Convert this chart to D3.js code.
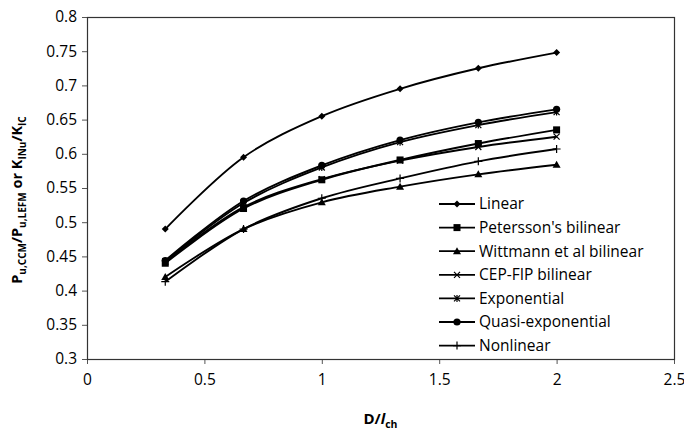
<!DOCTYPE html>
<html>
<head>
<meta charset="utf-8">
<script src="https://cdn.jsdelivr.net/npm/d3@7"></script>
<style>
  html, body { margin: 0; padding: 0; background: #fff; }
  svg { display: block; }
  text { font-family: "Open Sans", "DejaVu Sans", sans-serif; fill: #000; }
</style>
</head>
<body>
<svg id="chart" width="684" height="433"></svg>
<script>
// Normalised specimen size D/lch
const xValues = [1/3, 2/3, 1, 4/3, 5/3, 2];

// Ratio Pu,CCM/Pu,LEFM (or KINu/KIC) for each softening law
const linear       = [0.490, 0.595, 0.655, 0.695, 0.725, 0.748];
const petersson    = [0.440, 0.520, 0.562, 0.591, 0.615, 0.635];
const wittmann     = [0.420, 0.490, 0.529, 0.552, 0.570, 0.584];
const cepFip       = [0.442, 0.522, 0.563, 0.590, 0.610, 0.625];
const exponential  = [0.443, 0.528, 0.580, 0.617, 0.642, 0.661];
const quasiExp     = [0.444, 0.531, 0.583, 0.620, 0.646, 0.665];
const nonlinear    = [0.413, 0.490, 0.535, 0.564, 0.589, 0.607];

const seriesNames = ["Linear", "Petersson's bilinear", "Wittmann et al bilinear",
  "CEP-FIP bilinear", "Exponential", "Quasi-exponential", "Nonlinear"];
const seriesValues = [linear, petersson, wittmann, cepFip, exponential, quasiExp, nonlinear];
const markerKinds = ["diamond", "square", "triangle", "cross", "asterisk", "circle", "plus"];

const xTicks = [0, 0.5, 1, 1.5, 2, 2.5];
const xTickLabels = ["0", "0.5", "1", "1.5", "2", "2.5"];
const yTicks = [0.3, 0.35, 0.4, 0.45, 0.5, 0.55, 0.6, 0.65, 0.7, 0.75, 0.8];
const yTickLabels = ["0.3", "0.35", "0.4", "0.45", "0.5", "0.55", "0.6", "0.65", "0.7", "0.75", "0.8"];

const svg = d3.select("#chart");
const W = 684, H = 433;
const margin = { left: 87, right: 10, top: 17, bottom: 74 };
const pw = W - margin.left - margin.right;
const ph = H - margin.top - margin.bottom;

const x = d3.scaleLinear().domain([0, 2.5]).range([margin.left, margin.left + pw]);
const y = d3.scaleLinear().domain([0.3, 0.8]).range([margin.top + ph, margin.top]);

// Axes
const xAxis = svg.append("g")
  .attr("transform", `translate(0,${margin.top + ph})`)
  .call(d3.axisBottom(x).tickValues(xTicks)
    .tickFormat((d, i) => xTickLabels[i]).tickSize(5).tickPadding(10));
const yAxis = svg.append("g")
  .attr("transform", `translate(${margin.left},0)`)
  .call(d3.axisLeft(y).tickValues(yTicks)
    .tickFormat((d, i) => yTickLabels[i]).tickSize(5).tickPadding(5));
[xAxis, yAxis].forEach(g => {
  g.select(".domain").remove();
  g.selectAll(".tick line").attr("stroke", "#555").attr("stroke-width", 1);
  g.selectAll(".tick text").style("font-size", "15.5px").attr("fill", "#000");
});

// Plot frame
svg.append("rect")
  .attr("x", margin.left + 0.5).attr("y", margin.top + 0.5)
  .attr("width", pw).attr("height", ph)
  .attr("fill", "none").attr("stroke", "#333").attr("stroke-width", 1.2);

// Marker drawing
function drawMarker(g, kind, cx, cy) {
  const s = g.append("g").attr("transform", `translate(${cx},${cy})`);
  if (kind === "diamond") {
    s.append("path").attr("d", "M0,-3.5L3.5,0L0,3.5L-3.5,0Z").attr("fill", "#000");
  } else if (kind === "square") {
    s.append("rect").attr("x", -3.5).attr("y", -3.5).attr("width", 7).attr("height", 7).attr("fill", "#000");
  } else if (kind === "triangle") {
    s.append("path").attr("d", "M0,-4L4,3L-4,3Z").attr("fill", "#000");
  } else if (kind === "circle") {
    s.append("circle").attr("r", 3.6).attr("fill", "#000");
  } else if (kind === "cross") {
    s.append("path").attr("d", "M-3,-3L3,3M-3,3L3,-3").attr("stroke", "#000").attr("stroke-width", 1.2);
  } else if (kind === "asterisk") {
    s.append("path").attr("d", "M-3,-3L3,3M-3,3L3,-3M0,-3.5L0,3.5").attr("stroke", "#000").attr("stroke-width", 1.2);
  } else if (kind === "plus") {
    s.append("path").attr("d", "M-4,0L4,0M0,-4L0,4").attr("stroke", "#000").attr("stroke-width", 1.2);
  }
}

// Series lines (smoothed) and markers
const line = d3.line()
  .x((d, i) => x(xValues[i]))
  .y(d => y(d))
  .curve(d3.curveCatmullRom.alpha(0.5));

const plot = svg.append("g");
seriesValues.forEach((vals, si) => {
  plot.append("path")
    .datum(vals)
    .attr("d", line)
    .attr("fill", "none")
    .attr("stroke", "#000")
    .attr("stroke-width", 1.9);
});
seriesValues.forEach((vals, si) => {
  vals.forEach((v, i) => drawMarker(plot, markerKinds[si], x(xValues[i]), y(v)));
});

// Legend
const legend = svg.append("g").attr("transform", "translate(439,204)");
seriesNames.forEach((name, i) => {
  const row = legend.append("g").attr("transform", `translate(0,${i * 23.6})`);
  row.append("line").attr("x1", 0).attr("x2", 36).attr("y1", 0).attr("y2", 0)
    .attr("stroke", "#000").attr("stroke-width", 1.8);
  drawMarker(row, markerKinds[i], 18, 0);
  row.append("text").attr("x", 40).attr("y", 0).attr("dy", "0.35em")
    .style("font-size", "15.5px").text(name);
});

// Axis titles
const xTitle = svg.append("text")
  .attr("x", margin.left + pw / 2).attr("y", 424)
  .attr("text-anchor", "middle")
  .style("font-size", "15px").style("font-weight", "bold");
xTitle.append("tspan").text("D/");
xTitle.append("tspan").style("font-style", "italic").text("l");
xTitle.append("tspan").attr("dy", 4).style("font-size", "10.5px").text("ch");

const yTitle = svg.append("text")
  .attr("transform", `translate(22,${margin.top + ph / 2 + 12}) rotate(-90)`)
  .attr("text-anchor", "middle")
  .style("font-size", "14.5px").style("font-weight", "bold");
const yParts = [["P", 0], ["u,CCM", 1], ["/P", 0], ["u,LEFM", 1], [" or K", 0], ["INu", 1], ["/K", 0], ["IC", 1]];
let lastSub = false;
yParts.forEach(([t, sub]) => {
  const ts = yTitle.append("tspan").text(t);
  if (sub) { ts.attr("dy", 4).style("font-size", "10px"); lastSub = true; }
  else if (lastSub) { ts.attr("dy", -4); lastSub = false; }
});
</script>
</body>
</html>
